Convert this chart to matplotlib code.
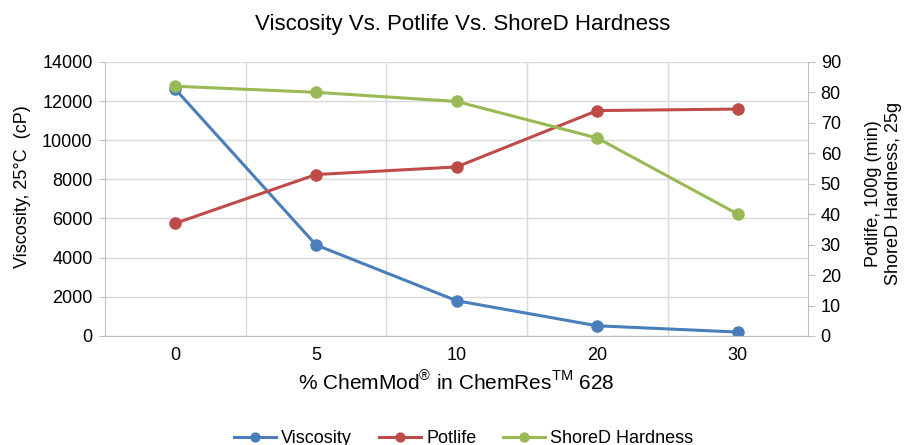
import matplotlib
matplotlib.use("Agg")
import matplotlib.pyplot as plt
import numpy as np

plt.rcParams["font.family"] = ["Liberation Sans", "DejaVu Sans"]

# data
categories = ["0", "5", "10", "20", "30"]
viscosity  = [12600, 4650, 1800, 520, 200]
potlife    = [37, 53, 55.5, 74, 74.5]
shored     = [82, 80, 77, 65, 40]

BLUE  = "#4A7EBB"
RED   = "#BE4B48"
GREEN = "#98B954"
GRID  = "#D9D9D9"
AXIS  = "#BFBFBF"

x = np.arange(len(categories))

fig = plt.figure(figsize=(9.06, 4.45), dpi=100)
ax = fig.add_axes([0.116, 0.245, 0.776, 0.616])
ax2 = ax.twinx()

ax.set_xlim(-0.5, len(categories) - 0.5)
ax.set_ylim(0, 14000)
ax.set_yticks(np.arange(0, 14001, 2000))
ax.set_xticks(x)
ax.set_xticklabels(categories)
ax.set_xticks(np.arange(0.5, len(categories) - 0.5, 1), minor=True)
ax.grid(True, which="major", axis="y", color=GRID, lw=1)
ax.grid(True, which="minor", axis="x", color=GRID, lw=1)
ax.tick_params(axis="x", which="both", length=0, labelsize=13, pad=8)
ax.tick_params(axis="y", length=4, color=AXIS, labelsize=13, pad=5)
for s in ["top", "right"]:
    ax.spines[s].set_visible(False)
ax.spines["bottom"].set_color(AXIS)
ax.spines["left"].set_color(AXIS)
ax.set_axisbelow(True)

ax2.set_ylim(0, 90)
ax2.set_yticks(np.arange(0, 91, 10))
ax2.tick_params(axis="y", length=5, color=AXIS, labelsize=13, pad=4)
for s in ["top", "left", "bottom"]:
    ax2.spines[s].set_visible(False)
ax2.spines["right"].set_color(AXIS)

l1, = ax.plot(x, viscosity, color=BLUE, lw=2.2, marker="o", ms=8, label="Viscosity")
l2, = ax2.plot(x, potlife, color=RED, lw=2.2, marker="o", ms=8, label="Potlife")
l3, = ax2.plot(x, shored, color=GREEN, lw=2.2, marker="o", ms=8, label="ShoreD Hardness")

ax.set_ylabel("Viscosity, 25°C  (cP)", fontsize=13)
ax.yaxis.set_label_coords(-0.105, 0.545)
ax2.set_ylabel("Potlife, 100g (min)\nShoreD Hardness, 25g", fontsize=13)
ax2.yaxis.set_label_coords(1.081, 0.52)
ax.set_xlabel(r"% ChemMod$^{\mathregular{®}}$ in ChemRes$^{\mathregular{TM}}$ 628",
              fontsize=15, labelpad=4)

fig.suptitle("Viscosity Vs. Potlife Vs. ShoreD Hardness", fontsize=16, x=0.511, y=0.968)

fig.legend(handles=[l1, l2, l3], loc="center", bbox_to_anchor=(0.512, 0.015),
           ncol=3, frameon=False, fontsize=13, handlelength=2.3, markerscale=0.8,
           columnspacing=1.5, handletextpad=0.3)

fig.savefig("out.png", dpi=100)
